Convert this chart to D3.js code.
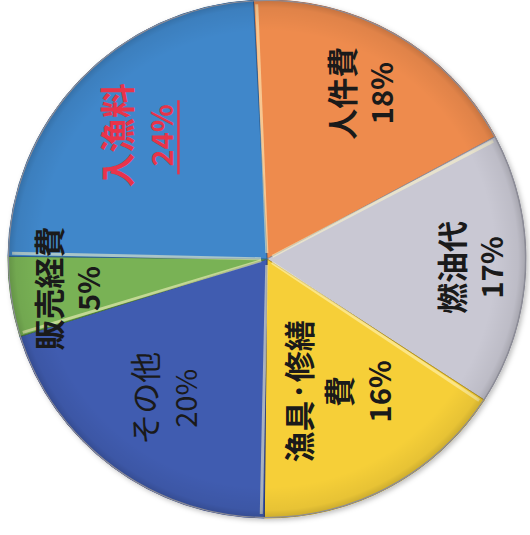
<!DOCTYPE html>
<html>
<head>
<meta charset="utf-8">
<script src="https://cdn.jsdelivr.net/npm/d3@7"></script>
<style>
  html, body { margin: 0; padding: 0; background: #ffffff; }
  svg { display: block; }
</style>
</head>
<body>
<svg id="chart" width="530" height="535"></svg>
<script>
// ---- data ----
const categories = ["人件費", "燃油代", "漁具・修繕費", "その他", "販売経費", "入漁料"];
const labelLines = [["人件費"], ["燃油代"], ["漁具·修繕", "費"], ["その他"], ["販売経費"], ["入漁料"]];
const values = [18, 17, 16, 20, 5, 24];
const percentLabels = ["18%", "17%", "16%", "20%", "5%", "24%"];

// ---- styles / layout (not data) ----
const colors = ["#ee8b4d", "#c9c8d3", "#f6cf37", "#3f5cb0", "#79b255", "#3f87ca"];
const strokeColors = ["#b8663a", "#8f8e9a", "#b79620", "#2c3f80", "#4f7d36", "#2b5f95"];
const textColors = ["#1a1a1a", "#1a1a1a", "#1a1a1a", "#1a1a1a", "#1a1a1a", "#e8344a"];
const weights = [700, 700, 700, 400, 700, 700];
const labelRadiusFactor = [0.735, 0.785, 0.58, 0.67, 0.78, 0.69];
const fontScale = [1, 1, 1, 1, 1, 1.12];

const W = 530, H = 535;
const cx = 267, cy = 259, R = 259;
const startOffset = -3 * Math.PI / 180;

const svg = d3.select("#chart");
const defs = svg.append("defs");
const f = defs.append("filter").attr("id", "shadow").attr("x", "-10%").attr("y", "-10%").attr("width", "120%").attr("height", "120%");
f.append("feDropShadow").attr("dx", 2).attr("dy", 2).attr("stdDeviation", 2.5).attr("flood-color", "#000").attr("flood-opacity", 0.25);

const rg = defs.append("radialGradient").attr("id", "bevel").attr("cx", "50%").attr("cy", "50%").attr("r", "50%");
rg.append("stop").attr("offset", "0.88").attr("stop-color", "#000").attr("stop-opacity", 0);
rg.append("stop").attr("offset", "0.97").attr("stop-color", "#000").attr("stop-opacity", 0.06);
rg.append("stop").attr("offset", "1").attr("stop-color", "#000").attr("stop-opacity", 0.18);

const g = svg.append("g").attr("transform", `translate(${cx},${cy})`);

const pie = d3.pie().sort(null).value(d => d)
  .startAngle(startOffset).endAngle(startOffset + 2 * Math.PI);
const arcs = pie(values);
const arc = d3.arc().innerRadius(0).outerRadius(R);

const pg = g.append("g").attr("filter", "url(#shadow)");
pg.selectAll("path.slice").data(arcs).enter().append("path")
  .attr("class", "slice")
  .attr("d", arc)
  .attr("fill", (d, i) => colors[i])
  .attr("stroke", (d, i) => strokeColors[i])
  .attr("stroke-width", 1)
  .attr("stroke-linejoin", "round");

// highlight lines along the leading edge of each slice (bevel effect)
g.selectAll("line.hl").data(arcs).enter().append("line")
  .attr("class", "hl")
  .attr("x1", d => 6 * Math.sin(d.startAngle + 0.03))
  .attr("y1", d => -6 * Math.cos(d.startAngle + 0.03))
  .attr("x2", d => (R - 4) * Math.sin(d.startAngle + 0.012))
  .attr("y2", d => -(R - 4) * Math.cos(d.startAngle + 0.012))
  .attr("stroke", "#fff8c8")
  .attr("stroke-opacity", 0.55)
  .attr("stroke-width", 3);

g.append("circle").attr("r", R).attr("fill", "url(#bevel)").attr("pointer-events", "none");
g.append("circle").attr("r", R - 0.5).attr("fill", "none").attr("stroke", "#8d8d98").attr("stroke-width", 1.2);

// ---- labels (rotated -90°) ----
const lineGap = 40;
const fontFamily = "'Noto Sans CJK JP', 'Noto Sans', sans-serif";
const lg = g.selectAll("g.lbl").data(arcs).enter().append("g")
  .attr("class", "lbl")
  .attr("transform", (d, i) => {
    const a = (d.startAngle + d.endAngle) / 2;
    const r = R * labelRadiusFactor[i];
    return `translate(${r * Math.sin(a)},${-r * Math.cos(a)}) rotate(-90)`;
  });

lg.each(function(d, i) {
  const sel = d3.select(this);
  const s = fontScale[i];
  const lines = labelLines[i].map(t => ({ t, pct: false })).concat([{ t: percentLabels[i], pct: true }]);
  const n = lines.length;
  lines.forEach((ln, k) => {
    const y = (k - (n - 1) / 2) * lineGap * s;
    const t = sel.append("text")
      .attr("x", 0).attr("y", y)
      .attr("text-anchor", "middle")
      .attr("dominant-baseline", "central")
      .attr("font-family", fontFamily)
      .attr("font-size", (ln.pct ? 29 : 31) * (ln.pct ? 1 : s))
      .attr("font-weight", weights[i])
      .attr("fill", textColors[i])
      .text(ln.t);
    if (ln.pct && categories[i] === "入漁料") {
      const bb = t.node().getBBox();
      sel.append("line")
        .attr("x1", bb.x - 8).attr("x2", bb.x + bb.width + 4)
        .attr("y1", y + 18).attr("y2", y + 18)
        .attr("stroke", textColors[i]).attr("stroke-width", 2.5);
    }
  });
});
</script>
</body>
</html>
